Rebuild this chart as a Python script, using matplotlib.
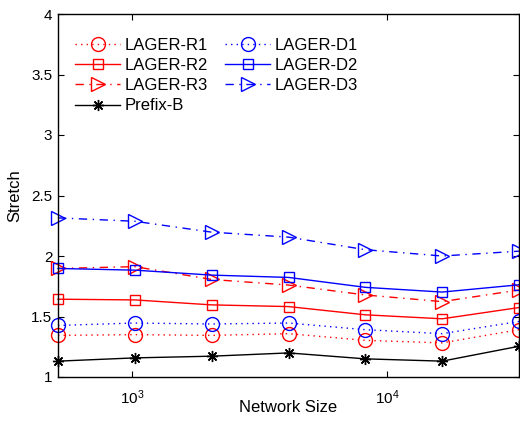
import matplotlib
matplotlib.use("Agg")
import matplotlib.pyplot as plt
from matplotlib.ticker import FixedLocator, NullLocator, LogFormatterMathtext

plt.rcParams['font.family'] = ['Liberation Sans', 'DejaVu Sans']

sizes = [512, 1024, 2048, 4096, 8192, 16384, 32768]
lager_r1 = [1.344, 1.350, 1.344, 1.358, 1.303, 1.282, 1.391]
lager_r2 = [1.643, 1.637, 1.596, 1.582, 1.514, 1.481, 1.574]
lager_r3 = [1.897, 1.912, 1.806, 1.760, 1.678, 1.623, 1.719]
prefix_b = [1.131, 1.158, 1.172, 1.199, 1.150, 1.131, 1.254]
lager_d1 = [1.426, 1.446, 1.438, 1.446, 1.391, 1.358, 1.459]
lager_d2 = [1.897, 1.883, 1.842, 1.823, 1.741, 1.702, 1.762]
lager_d3 = [2.315, 2.287, 2.197, 2.156, 2.052, 2.000, 2.040]

yticks = [1, 1.5, 2, 2.5, 3, 3.5, 4]
ytick_labels = ['1', '1.5', '2', '2.5', '3', '3.5', '4']
xticks = [1e3, 1e4]

fig = plt.figure(figsize=(5.2, 4.26), dpi=100)
ax = fig.add_axes([58/520, 49/426, 461/520, 363/426])

dot = (0, (1, 3))
dashdot = (0, (6, 4, 1, 4))
lw = 1.0
asterisk = (8, 2, 0)

series = [
    (lager_r1, 'LAGER-R1', 'red', dot, 'o', 10),
    (lager_r2, 'LAGER-R2', 'red', '-', 's', 7.5),
    (lager_r3, 'LAGER-R3', 'red', dashdot, '>', 10),
    (prefix_b, 'Prefix-B', 'black', '-', asterisk, 8),
    (lager_d1, 'LAGER-D1', 'blue', dot, 'o', 10),
    (lager_d2, 'LAGER-D2', 'blue', '-', 's', 7.5),
    (lager_d3, 'LAGER-D3', 'blue', dashdot, '>', 10),
]

for vals, label, color, ls, mk, ms in series:
    ax.plot(sizes, vals, color=color, linestyle=ls, linewidth=lw,
            marker=mk, markersize=ms, markerfacecolor='none',
            markeredgecolor=color, markeredgewidth=1.0, label=label,
            clip_on=False)

ax.set_xscale('log')
ax.set_xlim(512, 32768)
ax.set_ylim(1, 4)
ax.xaxis.set_major_locator(FixedLocator(xticks))
ax.xaxis.set_major_formatter(LogFormatterMathtext())
ax.xaxis.set_minor_locator(NullLocator())
ax.set_yticks(yticks)
ax.set_yticklabels(ytick_labels)

ax.tick_params(axis='both', which='major', direction='in', length=4,
               width=0.8, labelsize=11, top=True, right=True)
ax.tick_params(axis='y', pad=4)
ax.tick_params(axis='x', pad=8)
for s in ax.spines.values():
    s.set_linewidth(1.0)

ax.set_xlabel('Network Size', fontsize=12)
ax.set_ylabel('Stretch', fontsize=12)
ax.xaxis.set_label_coords(0.499, -0.062)
ax.yaxis.set_label_coords(-0.078, 0.501)

ax.legend(ncol=2, frameon=False, loc='upper left',
          bbox_to_anchor=(0.037, 0.934), fontsize=12,
          handlelength=2.7, handletextpad=0.3, columnspacing=1.0,
          labelspacing=0.31, borderaxespad=0.0, borderpad=0.0)

fig.savefig('out.png', dpi=100)
